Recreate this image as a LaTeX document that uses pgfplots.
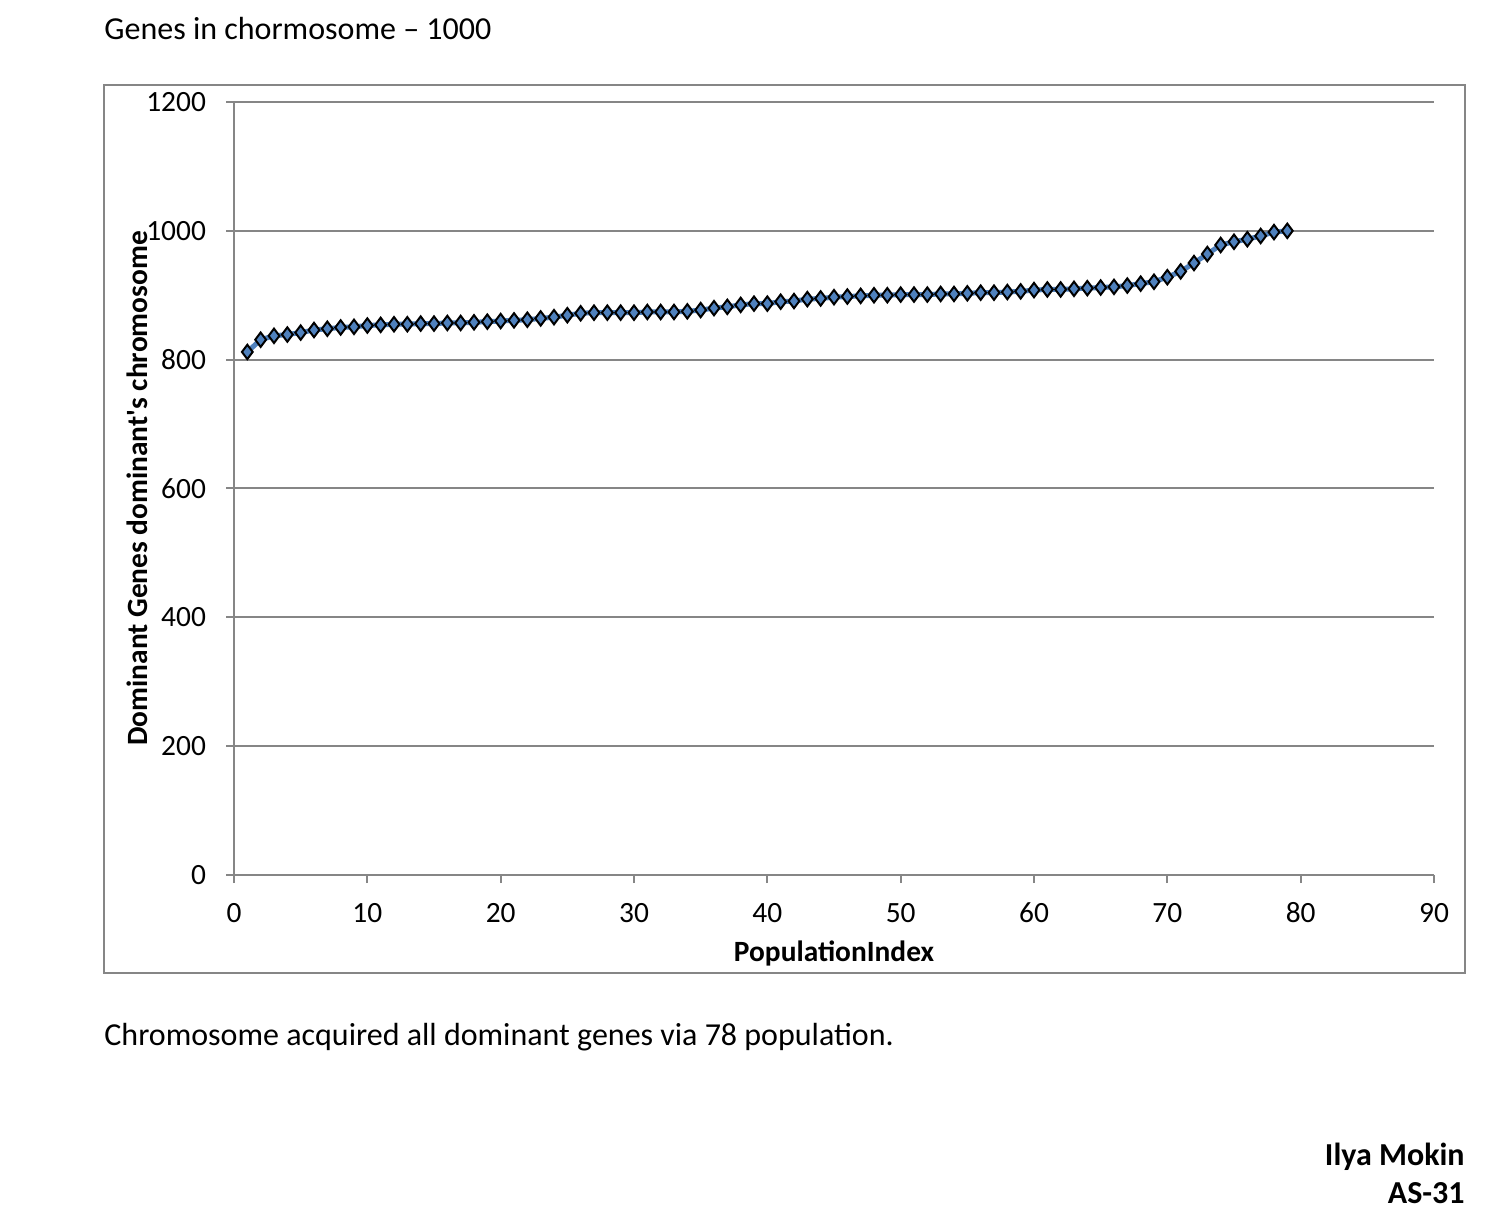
\documentclass[border=0pt]{standalone}
\usepackage{fontspec}
\setmainfont{Carlito}
\usepackage{pgfplots}
\pgfplotsset{compat=1.18}
\definecolor{gridgray}{RGB}{134,134,134}
\definecolor{serblue}{RGB}{79,129,189}
\begin{document}
\fontsize{16pt}{19pt}\selectfont
\begin{tikzpicture}
 \path[use as bounding box] (0pt,0pt) rectangle (749.5pt,605.5pt);
 \draw[gridgray, line width=1pt] (52pt,119pt) rectangle (732.5pt,563pt);
 \node[anchor=base west, inner sep=0pt] at (52pt,585.5pt) {Genes in chormosome – 1000};
 \node[anchor=base west, inner sep=0pt] at (52pt,83pt) {Chromosome acquired all dominant genes via 78 population.};
 \node[anchor=base east, inner sep=0pt] at (732.5pt,23pt) {\bfseries Ilya Mokin};
 \node[anchor=base east, inner sep=0pt] at (732.5pt,4pt) {\bfseries AS-31};
 \begin{axis}[
  at={(117pt,168pt)},
  anchor=south west,
  scale only axis,
  width=600pt,
  height=386.5pt,
  xmin=0, xmax=90,
  ymin=0, ymax=1200,
  xtick={0,10,...,90},
  ytick={0,200,...,1200},
  axis lines=left,
  axis line style={gridgray, line width=1pt, -},
  tick align=outside,
  major tick length=4pt,
  tick style={gridgray, line width=1pt},
  ymajorgrids,
  grid style={gridgray, line width=1pt},
  /pgf/number format/assume math mode=true,
  /pgf/number format/1000 sep={},
  ticklabel style={font=\fontsize{14.7pt}{17pt}\selectfont},
  yticklabel style={xshift=-4.5pt},
  xticklabel style={text height=10pt, text depth=0pt, yshift=-4pt},
  xlabel={\bfseries PopulationIndex},
  ylabel={\bfseries Dominant Genes dominant\textquotesingle s chromosome},
  label style={font=\fontsize{14.7pt}{17pt}\selectfont},
  xlabel style={at={(axis description cs:0.5,0)}, anchor=center, yshift=-39pt},
  ylabel style={at={(axis description cs:-0.0808,0.5)}, anchor=center},
  clip=false,
 ]
  \addplot[serblue, line width=2.5pt, mark=diamond*,
   mark size=3.6pt, mark options={fill=serblue, draw=black, line width=1pt}]
  coordinates {
   (1,812) (2,831) (3,837) (4,839) (5,842) (6,846) (7,848) (8,850)
   (9,851) (10,853) (11,854) (12,855) (13,855) (14,856) (15,856) (16,857)
   (17,857) (18,858) (19,859) (20,860) (21,861) (22,862) (23,864) (24,866)
   (25,869) (26,872) (27,873) (28,873) (29,873) (30,873) (31,874) (32,874)
   (33,874) (34,875) (35,877) (36,880) (37,882) (38,885) (39,887) (40,887)
   (41,890) (42,891) (43,894) (44,895) (45,897) (46,898) (47,899) (48,900)
   (49,900) (50,901) (51,901) (52,901) (53,902) (54,902) (55,903) (56,904)
   (57,904) (58,905) (59,906) (60,908) (61,909) (62,909) (63,910) (64,911)
   (65,912) (66,913) (67,915) (68,918) (69,921) (70,928) (71,937) (72,950)
   (73,964) (74,978) (75,983) (76,987) (77,992) (78,998) (79,1000)
  };
 \end{axis}
\end{tikzpicture}
\end{document}
